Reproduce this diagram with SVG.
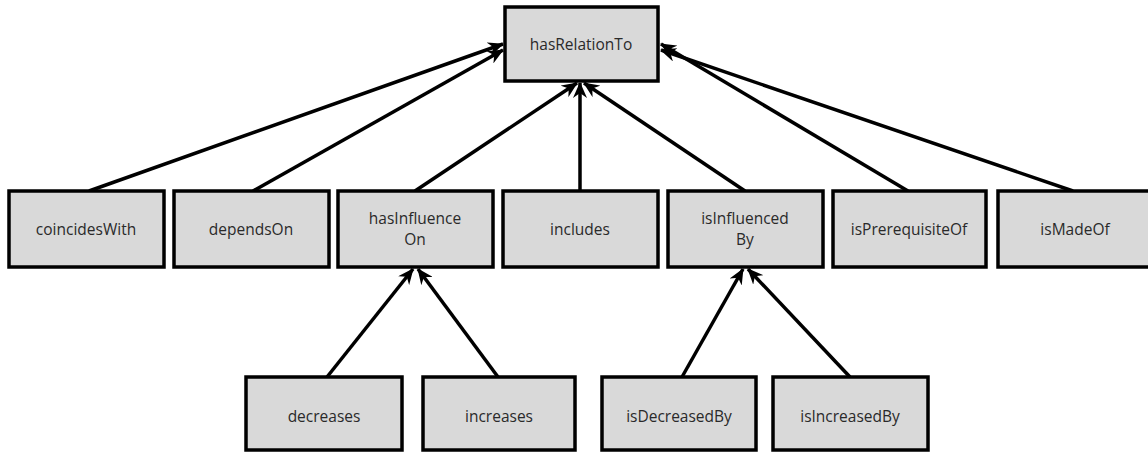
<svg xmlns="http://www.w3.org/2000/svg" width="1148" height="452" viewBox="0 0 1148 452">
  <style>
    .box { fill: #d9d9d9; stroke: #000; stroke-width: 3.5; }
    .lbl { font-family: "Open Sans", "Noto Sans", sans-serif; font-size: 15.5px; fill: #2a2a2a; text-anchor: middle; dominant-baseline: central; }
    .edge { fill: none; stroke: #000; stroke-width: 3.5; marker-end: url(#head); }
  </style>
  <defs>
    <marker id="head" markerUnits="userSpaceOnUse" markerWidth="16" markerHeight="14" refX="15" refY="7" orient="auto">
      <path d="M0,0 L16,7 L0,14 L5,7 z" fill="#000"/>
    </marker>
  </defs>
  <rect width="1148" height="452" fill="#fff"/>

  <!-- connectors: child to parent -->
  <g id="connectors">
    <path class="edge" d="M89,191 L503,44"/>
    <path class="edge" d="M253,191 L503,50"/>
    <path class="edge" d="M415,191 L577,83"/>
    <path class="edge" d="M580,191 L580,83"/>
    <path class="edge" d="M745,191 L584,83"/>
    <path class="edge" d="M908,191 L661,44"/>
    <path class="edge" d="M1073,191 L661,50"/>
    <path class="edge" d="M327,377 L413,269"/>
    <path class="edge" d="M498,377 L418,269"/>
    <path class="edge" d="M682,377 L743,269"/>
    <path class="edge" d="M850,377 L748,269"/>
  </g>

  <g id="hasRelationTo">
    <rect class="box" x="505" y="7" width="153" height="74"/>
    <text class="lbl" x="581" y="44">hasRelationTo</text>
  </g>

  <g id="coincidesWith">
    <rect class="box" x="9" y="191" width="155" height="76"/>
    <text class="lbl" x="86" y="229">coincidesWith</text>
  </g>
  <g id="dependsOn">
    <rect class="box" x="174" y="191" width="155" height="76"/>
    <text class="lbl" x="251" y="229">dependsOn</text>
  </g>
  <g id="hasInfluenceOn">
    <rect class="box" x="338" y="191" width="155" height="76"/>
    <text class="lbl" x="415" y="218">hasInfluence</text>
    <text class="lbl" x="415" y="239">On</text>
  </g>
  <g id="includes">
    <rect class="box" x="503" y="191" width="155" height="76"/>
    <text class="lbl" x="580" y="229">includes</text>
  </g>
  <g id="isInfluencedBy">
    <rect class="box" x="668" y="191" width="155" height="76"/>
    <text class="lbl" x="745" y="218">isInfluenced</text>
    <text class="lbl" x="745" y="239">By</text>
  </g>
  <g id="isPrerequisiteOf">
    <rect class="box" x="833" y="191" width="153" height="76"/>
    <text class="lbl" x="909" y="229">isPrerequisiteOf</text>
  </g>
  <g id="isMadeOf">
    <rect class="box" x="998" y="191" width="156" height="76"/>
    <text class="lbl" x="1075" y="229">isMadeOf</text>
  </g>

  <g id="decreases">
    <rect class="box" x="246" y="377" width="156" height="73"/>
    <text class="lbl" x="324" y="416">decreases</text>
  </g>
  <g id="increases">
    <rect class="box" x="423" y="377" width="152" height="73"/>
    <text class="lbl" x="499" y="416">increases</text>
  </g>
  <g id="isDecreasedBy">
    <rect class="box" x="602" y="377" width="154" height="73"/>
    <text class="lbl" x="679" y="416">isDecreasedBy</text>
  </g>
  <g id="isIncreasedBy">
    <rect class="box" x="773" y="377" width="155" height="73"/>
    <text class="lbl" x="850" y="416">isIncreasedBy</text>
  </g>
</svg>
